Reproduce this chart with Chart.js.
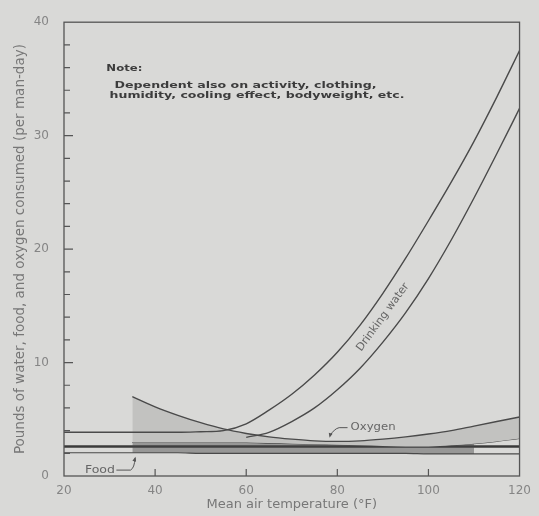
<!DOCTYPE html>
<html>
<head>
<meta charset="utf-8">
<script src="https://cdn.jsdelivr.net/npm/chart.js@4.4.0/dist/chart.umd.min.js"></script>
<style>
  html, body { margin: 0; padding: 0; background: #d9d9d7; }
  #wrap { width: 539px; height: 516px; }
</style>
</head>
<body>
<div id="wrap"><canvas id="chart" width="539" height="516"></canvas></div>
<script>
const temps = [20, 25, 30, 35, 40, 45, 50, 55, 60, 65, 70, 75, 80, 85, 90, 95, 100, 105, 110, 115, 120];

// drinking water, upper and lower limit (lb per man-day)
const waterHigh = [3.85, 3.85, 3.85, 3.85, 3.85, 3.85, 3.9, 4.0, 4.6, 5.8, 7.2, 8.9, 10.9, 13.3, 16.1, 19.2, 22.5, 25.9, 29.5, 33.4, 37.5];
const waterLow = [null, null, null, null, null, null, null, null, 3.4, 3.85, 4.8, 6.0, 7.6, 9.5, 11.8, 14.4, 17.4, 20.8, 24.5, 28.4, 32.4];
// oxygen band, the upper edge is the falling curve on the cold side
const oxygenHigh = [null, null, null, 7.0, 6.1, 5.35, 4.7, 4.15, 3.75, 3.45, 3.25, 3.1, 3.05, 3.1, 3.25, 3.45, 3.7, 4.0, 4.4, 4.8, 5.2];
const oxygenLow = [null, null, null, 2.95, 2.95, 2.95, 2.95, 2.95, 2.95, 2.9, 2.85, 2.8, 2.75, 2.7, 2.65, 2.6, 2.6, 2.7, 2.85, 3.05, 3.3];
const oxygenDense = [null, null, null, 2.95, 2.95, 2.95, 2.95, 2.95, 2.95, 2.9, 2.85, 2.8, 2.75, 2.7, 2.65, 2.6, 2.6, 2.7, 2.85, null, null];
// food
const foodHigh = [2.6, 2.6, 2.6, 2.6, 2.6, 2.6, 2.6, 2.6, 2.6, 2.6, 2.6, 2.6, 2.6, 2.6, 2.6, 2.6, 2.6, 2.6, 2.6, 2.6, 2.6];
const foodLow = [2.05, 2.05, 2.05, 2.05, 2.05, 2.05, 2.0, 2.0, 2.0, 2.0, 2.0, 2.0, 2.0, 2.0, 2.0, 2.0, 1.95, 1.95, 1.95, 1.95, 1.95];

const noteLines = ['Dependent also on activity, clothing,', 'humidity, cooling effect, bodyweight, etc.'];

const ink = '#4a4a4a';
const paper = '#d9d9d7';

const pts = (vals) => temps.map((t, i) => ({ x: t, y: vals[i] }));

const line = (vals, extra) => Object.assign({
    data: pts(vals),
    borderColor: ink,
    borderWidth: 1.4,
    pointRadius: 0,
    fill: false,
    cubicInterpolationMode: 'monotone',
    spanGaps: false
}, extra);

function fitText(ctx, text, x, y, width) {
    const w = ctx.measureText(text).width;
    ctx.save();
    ctx.translate(x, y);
    ctx.scale(width / w, 1);
    ctx.fillText(text, 0, 0);
    ctx.restore();
}

function arrowHead(ctx, fromX, fromY, toX, toY) {
    const ang = Math.atan2(toY - fromY, toX - fromX);
    ctx.beginPath();
    ctx.moveTo(toX, toY);
    ctx.lineTo(toX - 5 * Math.cos(ang - 0.4), toY - 5 * Math.sin(ang - 0.4));
    ctx.lineTo(toX - 5 * Math.cos(ang + 0.4), toY - 5 * Math.sin(ang + 0.4));
    ctx.closePath();
    ctx.fill();
}

const paperPlugin = {
    id: 'paper',
    beforeDraw(chart) {
        const ctx = chart.ctx;
        ctx.save();
        ctx.fillStyle = paper;
        ctx.fillRect(0, 0, chart.width, chart.height);
        ctx.restore();
    },
    afterDatasetsDraw(chart) {
        const { ctx, chartArea: a, scales: { x, y } } = chart;
        const at = (t, v) => [x.getPixelForValue(t), y.getPixelForValue(v)];

        ctx.save();
        // frame
        ctx.strokeStyle = '#555';
        ctx.lineWidth = 1.3;
        ctx.strokeRect(a.left, a.top, a.right - a.left, a.bottom - a.top);

        // inward ticks on the y axis, every 2 units
        ctx.lineWidth = 1.2;
        ctx.beginPath();
        for (let v = 2; v < 40; v += 2) {
            const py = y.getPixelForValue(v);
            ctx.moveTo(a.left, py);
            ctx.lineTo(a.left + (v % 10 === 0 ? 9 : 6), py);
        }
        // inward ticks on the x axis
        for (let t = 40; t < 120; t += 20) {
            const px = x.getPixelForValue(t);
            ctx.moveTo(px, a.bottom);
            ctx.lineTo(px, a.bottom - 7);
        }
        ctx.stroke();

        // note
        ctx.fillStyle = '#3c3c3c';
        ctx.textBaseline = 'middle';
        ctx.textAlign = 'left';
        ctx.font = 'bold 9px "DejaVu Sans"';
        let p = at(29.3, 35.9);
        fitText(ctx, 'Note:', p[0], p[1], 36);
        p = at(31.1, 34.4);
        fitText(ctx, noteLines[0], p[0], p[1], 262);
        p = at(30.0, 33.5);
        fitText(ctx, noteLines[1], p[0], p[1], 295);

        // curve labels
        ctx.fillStyle = '#666';
        ctx.font = '11px "DejaVu Sans"';
        p = at(90, 14);
        ctx.save();
        ctx.translate(p[0], p[1]);
        ctx.rotate(-54 * Math.PI / 180);
        ctx.textAlign = 'center';
        ctx.fillText('Drinking water', 0, 0);
        ctx.restore();

        ctx.font = '10px "DejaVu Sans"';
        ctx.strokeStyle = '#555';
        ctx.lineWidth = 1;
        // oxygen label and leader
        p = at(82.9, 4.26);
        fitText(ctx, 'Oxygen', p[0], p[1], 45);
        const o1 = at(80.4, 4.26), o2 = at(80.2, 4.26), o3 = at(78.4, 3.55);
        ctx.beginPath();
        ctx.moveTo(p[0] - 3, p[1]);
        ctx.lineTo(o1[0], o1[1]);
        ctx.quadraticCurveTo(o2[0] - 4, o2[1] + 1, o3[0], o3[1]);
        ctx.stroke();
        ctx.fillStyle = '#555';
        arrowHead(ctx, o3[0] + 1, o3[1] - 4, o3[0] - 0.5, o3[1] + 2);

        // food label and leader
        ctx.fillStyle = '#666';
        p = at(24.6, 0.52);
        fitText(ctx, 'Food', p[0], p[1], 30);
        const f1 = at(31.5, 0.52), f2 = at(34.6, 0.52), f3 = at(35.6, 1.6);
        ctx.beginPath();
        ctx.moveTo(f1[0], f1[1]);
        ctx.lineTo(f2[0], f2[1]);
        ctx.quadraticCurveTo(f2[0] + 4, f2[1] - 2, f3[0], f3[1]);
        ctx.stroke();
        ctx.fillStyle = '#555';
        arrowHead(ctx, f3[0] - 1, f3[1] + 4, f3[0] + 0.5, f3[1] - 1);
        ctx.restore();
    }
};

new Chart(document.getElementById('chart').getContext('2d'), {
    type: 'line',
    data: {
        datasets: [
            line(waterHigh),
            line(waterLow),
            line(oxygenHigh, { fill: { target: 3, above: '#c2c2c0', below: '#c2c2c0' } }),
            line(oxygenLow, { borderWidth: 1.1 }),
            line(oxygenDense, { borderWidth: 0, fill: { target: 6, above: 'rgba(70,70,70,0.45)', below: 'rgba(70,70,70,0.45)' } }),
            line(foodHigh, { borderWidth: 2.6, borderColor: '#3a3a3a' }),
            line(foodLow, { borderWidth: 1.2 })
        ]
    },
    options: {
        responsive: false,
        animation: false,
        layout: { padding: { left: 0, top: 16, right: 15, bottom: 0 } },
        plugins: { legend: { display: false }, tooltip: { enabled: false } },
        scales: {
            x: {
                type: 'linear',
                min: 20,
                max: 120,
                grid: { display: false, drawTicks: false },
                border: { display: false },
                ticks: { stepSize: 20, padding: 8, color: '#858585', font: { family: 'DejaVu Sans', size: 12 } },
                title: {
                    display: true,
                    text: 'Mean air temperature (°F)',
                    color: '#777',
                    font: { family: 'DejaVu Sans', size: 13 },
                    padding: { top: 0, bottom: 4 }
                },
                afterFit(s) { s.height = 40; }
            },
            y: {
                min: 0,
                max: 40,
                grid: { display: false, drawTicks: false },
                border: { display: false },
                ticks: { stepSize: 10, padding: 15, color: '#858585', font: { family: 'DejaVu Sans', size: 12 } },
                title: {
                    display: true,
                    text: 'Pounds of water, food, and oxygen consumed (per man-day)',
                    color: '#777',
                    font: { family: 'DejaVu Sans', size: 13.5 },
                    padding: { top: 12, bottom: 0 }
                },
                afterFit(s) { s.width = 64; }
            }
        }
    },
    plugins: [paperPlugin]
});
</script>
</body>
</html>
